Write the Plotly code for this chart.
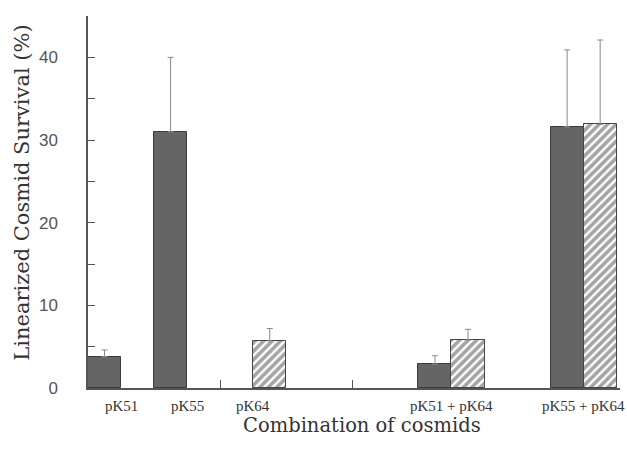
import plotly.graph_objects as go

# ---- data ----
categories = ["pK51", "pK55", "pK64", "pK51 + pK64", "pK55 + pK64"]
dark_values = [3.8, 31.0, 2.9, 31.6]      # solid bars: pK51, pK55, pK51+pK64, pK55+pK64
dark_upper = [4.6, 40.0, 3.9, 40.9]       # top of error bar
hatch_values = [5.7, 5.8, 31.9]           # hatched bars: pK64, pK51+pK64, pK55+pK64
hatch_upper = [7.2, 7.1, 42.1]
y_tick_vals = [0, 5, 10, 15, 20, 25, 30, 35, 40, 45]
y_tick_text = ["0", "", "10", "", "20", "", "30", "", "40", ""]

# ---- layout positions (slots on numeric x axis) ----
dark_x = [0.5, 2.5, 10.5, 14.5]
hatch_x = [5.5, 11.5, 15.5]
label_x = [1.0, 3.0, 5.0, 11.0, 15.0]

serif = "DejaVu Serif"
lserif = "Liberation Serif"
sans = "Liberation Sans"

fig = go.Figure()
fig.add_trace(go.Bar(
    x=dark_x, y=dark_values, width=1.0,
    marker=dict(color="#656565", line=dict(color="#3a3a3a", width=1)),
    error_y=dict(type="data", symmetric=False,
                 array=[u - v for u, v in zip(dark_upper, dark_values)],
                 arrayminus=[0] * len(dark_values),
                 color="#8a8a8a", thickness=1, width=3),
    showlegend=False,
))
fig.add_trace(go.Bar(
    x=hatch_x, y=hatch_values, width=1.0,
    marker=dict(color="white", line=dict(color="#444444", width=1),
                pattern=dict(shape="/", fgcolor="#4a4a4a", bgcolor="white",
                             size=6, solidity=0.6)),
    error_y=dict(type="data", symmetric=False,
                 array=[u - v for u, v in zip(hatch_upper, hatch_values)],
                 arrayminus=[0] * len(hatch_values),
                 color="#8a8a8a", thickness=1, width=3),
    showlegend=False,
))

for lx, txt in zip(label_x, categories):
    fig.add_annotation(x=lx, y=0, xref="x", yref="y", text=txt, showarrow=False,
                       yanchor="middle", yshift=-18,
                       font=dict(family=lserif, size=15, color="#333333"))

fig.add_annotation(x=0.515, y=0, xref="paper", yref="paper", text="Combination of cosmids",
                   showarrow=False, yanchor="middle", yshift=-37,
                   font=dict(family=serif, size=19.5, color="#333333"))
fig.add_annotation(x=0, y=0.525, xref="paper", yref="paper", text="Linearized Cosmid Survival (%)",
                   showarrow=False, textangle=-90, xanchor="center", xshift=-66,
                   font=dict(family=serif, size=21, color="#333333"))

fig.update_layout(
    width=627, height=455,
    margin=dict(l=88, r=7, t=16, b=67),
    plot_bgcolor="white", paper_bgcolor="white",
    barmode="overlay",
    bargap=0,
)
fig.update_xaxes(range=[0, 16.1], showgrid=False, zeroline=False, automargin=False,
                 showline=True, linecolor="#555555", linewidth=1.5,
                 tickvals=[4, 8, 12, 16], ticks="inside", ticklen=8,
                 tickcolor="#555555", showticklabels=False)
fig.update_yaxes(range=[0, 45], showgrid=False, zeroline=False, automargin=False,
                 showline=True, linecolor="#555555", linewidth=1.5,
                 tickvals=y_tick_vals, ticktext=y_tick_text,
                 ticks="inside", ticklen=7, tickcolor="#555555",
                 ticklabelstandoff=25,
                 tickfont=dict(family=sans, size=17, color="#555555"))

fig.write_html("out.html", config={"displayModeBar": False},
               post_script="document.body.style.margin='0';")
